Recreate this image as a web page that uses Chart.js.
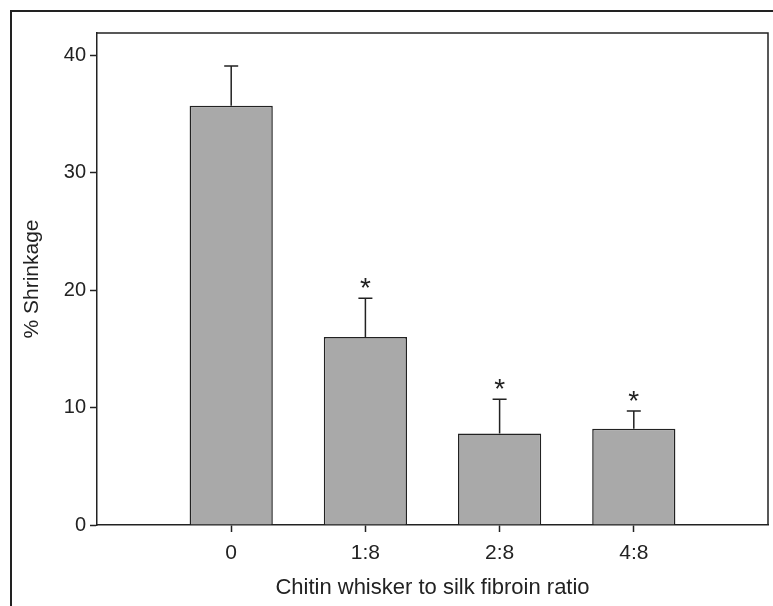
<!DOCTYPE html>
<html>
<head>
<meta charset="utf-8">
<script src="https://cdn.jsdelivr.net/npm/chart.js@4.4.0/dist/chart.umd.min.js"></script>
<style>
  html, body { margin: 0; padding: 0; background: #fff; }
  #wrap { width: 773px; height: 606px; }
</style>
</head>
<body>
<div id="wrap"><canvas id="grafico" width="773" height="606"></canvas></div>
<script>
// values
const categories = ['0', '1:8', '2:8', '4:8'];
const shrinkage = [35.7, 16.0, 7.8, 8.2];
const errorPlus = [3.4, 3.3, 2.9, 1.5];
const significant = [false, true, true, true];
const yTicks = [0, 10, 20, 30, 40];

// empty slots at both ends so the bars sit like the original
const xLabels = ['', ...categories, ''];
const barData = [null, ...shrinkage, null];

const framePlugin = {
  id: 'frame',
  afterDatasetsDraw(chart) {
    const ctx = chart.ctx;
    const a = chart.chartArea;
    const y = chart.scales.y;
    const meta = chart.getDatasetMeta(0);
    ctx.save();
    ctx.strokeStyle = '#222';
    ctx.lineWidth = 1.5;

    // top and right side of the plot box
    ctx.beginPath();
    ctx.moveTo(a.left, a.top);
    ctx.lineTo(a.right, a.top);
    ctx.lineTo(a.right, a.bottom);
    ctx.stroke();

    // outer frame (left + top only)
    ctx.lineWidth = 2;
    ctx.beginPath();
    ctx.moveTo(11, chart.height);
    ctx.lineTo(11, 11);
    ctx.lineTo(chart.width, 11);
    ctx.stroke();

    // error bars + asterisks
    ctx.lineWidth = 1.5;
    ctx.fillStyle = '#222';
    ctx.font = '28px "Liberation Sans", Arial, sans-serif';
    ctx.textAlign = 'center';
    ctx.textBaseline = 'alphabetic';
    shrinkage.forEach((v, i) => {
      const bar = meta.data[i + 1];
      const top = y.getPixelForValue(v);
      const cap = y.getPixelForValue(v + errorPlus[i]);
      ctx.beginPath();
      ctx.moveTo(bar.x, top);
      ctx.lineTo(bar.x, cap);
      ctx.moveTo(bar.x - 7, cap);
      ctx.lineTo(bar.x + 7, cap);
      ctx.stroke();
      if (significant[i]) {
        ctx.fillText('*', bar.x, cap - 1);
      }
    });
    ctx.restore();
  }
};

const ctx = document.getElementById('grafico');
new Chart(ctx, {
  type: 'bar',
  data: {
    labels: xLabels,
    datasets: [{
      label: '% Shrinkage',
      data: barData,
      backgroundColor: '#a9a9a9',
      borderColor: '#222',
      borderWidth: 1.5,
      borderSkipped: 'start',
      categoryPercentage: 1,
      barPercentage: 0.62
    }]
  },
  options: {
    responsive: false,
    animation: false,
    layout: { padding: { left: 0, top: 33, right: 5, bottom: 0 } },
    plugins: {
      legend: { display: false },
      tooltip: { enabled: false }
    },
    scales: {
      x: {
        offset: false,
        grid: {
          offset: false,
          drawOnChartArea: false,
          tickLength: 7,
          tickWidth: 1.5,
          tickColor: c => (c.index === 0 || c.index === xLabels.length - 1) ? 'rgba(0,0,0,0)' : '#222'
        },
        border: { color: '#222', width: 1.5 },
        ticks: {
          color: '#222',
          padding: 9,
          maxRotation: 0,
          autoSkip: false,
          font: { family: '"Liberation Sans", Arial, sans-serif', size: 21 }
        },
        title: {
          display: true,
          text: 'Chitin whisker to silk fibroin ratio',
          color: '#222',
          padding: { top: 0, bottom: 5 },
          font: { family: '"Liberation Sans", Arial, sans-serif', size: 22 }
        },
        afterFit(scale) {
          scale.height = 81;
          scale.paddingLeft = 0;
          scale.paddingRight = 0;
        }
      },
      y: {
        min: 0,
        max: 41.9,
        afterBuildTicks(scale) { scale.ticks = yTicks.map(v => ({ value: v })); },
        grid: { drawOnChartArea: false, tickLength: 7, tickWidth: 1.5, tickColor: '#222' },
        border: { color: '#222', width: 1.5 },
        ticks: {
          color: '#222',
          padding: 4,
          font: { family: '"Liberation Sans", Arial, sans-serif', size: 20 }
        },
        title: {
          display: true,
          text: '% Shrinkage',
          color: '#222',
          padding: { top: 20, bottom: 0 },
          font: { family: '"Liberation Sans", Arial, sans-serif', size: 21 }
        },
        afterFit(scale) { scale.width = 97; }
      }
    }
  },
  plugins: [framePlugin]
});
</script>
</body>
</html>
